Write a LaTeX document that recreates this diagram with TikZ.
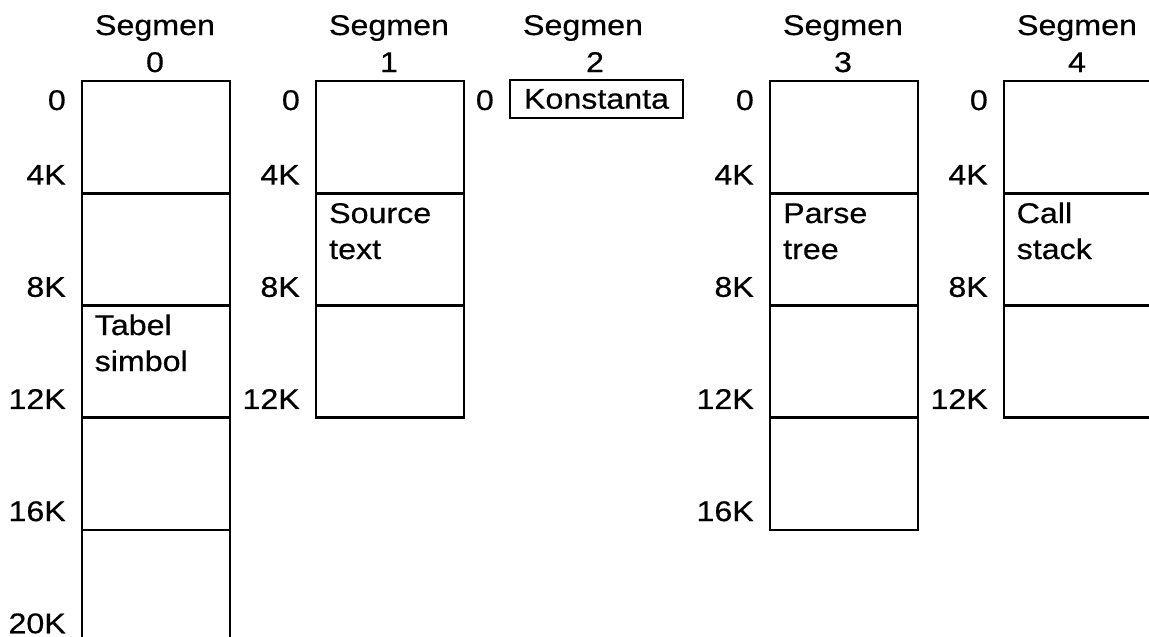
\documentclass[tikz,border=0pt]{standalone}
\usepackage{fontspec}
\setmainfont{Liberation Sans}[FakeStretch=1.13,FakeBold=0.5]
\begin{document}
\begin{tikzpicture}[x=1pt,y=-1pt,
  every node/.style={font=\fontsize{28.5}{36}\selectfont},
  cell/.style={draw, line width=2.4pt, minimum width=148pt, minimum height=112.15pt,
               inner sep=0pt, anchor=north west},
  addr/.style={anchor=base east, inner sep=0pt},
  title/.style={anchor=base, inner sep=0pt},
  inside/.style={anchor=base west, inner sep=0pt}]
\useasboundingbox (0,0) rectangle (1149,637);

% segment headings
\node[title] (h0) at (155,35) {\begin{tabular}[t]{@{}c@{}}Segmen\\[1pt]0\end{tabular}};
\node[title] (h1) at (389,35) {\begin{tabular}[t]{@{}c@{}}Segmen\\[1pt]1\end{tabular}};
\node[title] (h2) at (595,35) {\begin{tabular}[t]{@{}c@{}}Segmen\hspace*{24pt}\\[1pt]2\end{tabular}};
\node[title] (h3) at (843,35) {\begin{tabular}[t]{@{}c@{}}Segmen\\[1pt]3\end{tabular}};
\node[title] (h4) at (1077,35) {\begin{tabular}[t]{@{}c@{}}Segmen\\[1pt]4\end{tabular}};

% memory blocks, 4K each
\foreach \k in {0,...,4} \node[cell] (s0r\k) at (81,{80+112.15*\k}) {};
\foreach \k in {0,...,2} \node[cell] (s1r\k) at (315,{80+112.15*\k}) {};
\foreach \k in {0,...,3} \node[cell] (s3r\k) at (769,{80+112.15*\k}) {};
\foreach \k in {0,...,2} \node[cell] (s4r\k) at (1003,{80+112.15*\k}) {};
\node[draw, line width=2.4pt, minimum width=173pt, minimum height=38pt, inner sep=0pt]
  (konst) at (596.5,99) {Konstanta};

% contents
\node[inside] (t0) at (94.5,335) {\begin{tabular}[t]{@{}l@{}}Tabel\\simbol\end{tabular}};
\node[inside] (t1) at (329,223) {\begin{tabular}[t]{@{}l@{}}Source\\text\end{tabular}};
\node[inside] (t3) at (783,223) {\begin{tabular}[t]{@{}l@{}}Parse\\tree\end{tabular}};
\node[inside] (t4) at (1016.5,223) {\begin{tabular}[t]{@{}l@{}}Call\\stack\end{tabular}};

% address labels
\node[addr] (a0-0) at (66,110) {0};
\node[addr] (a1-0) at (300,110) {0};
\node[addr] (a2-0) at (494,110) {0};
\node[addr] (a3-0) at (754,110) {0};
\node[addr] (a4-0) at (988,110) {0};
\foreach \k/\t in {1/4K,2/8K,3/12K,4/16K,5/20K}
  \node[addr] (a0-\k) at (66,{80+112.15*\k-7.5}) {\t};
\foreach \k/\t in {1/4K,2/8K,3/12K}
  \node[addr] (a1-\k) at (300,{80+112.15*\k-7.5}) {\t};
\foreach \k/\t in {1/4K,2/8K,3/12K,4/16K}
  \node[addr] (a3-\k) at (754,{80+112.15*\k-7.5}) {\t};
\foreach \k/\t in {1/4K,2/8K,3/12K}
  \node[addr] (a4-\k) at (988,{80+112.15*\k-7.5}) {\t};
\end{tikzpicture}
\end{document}
